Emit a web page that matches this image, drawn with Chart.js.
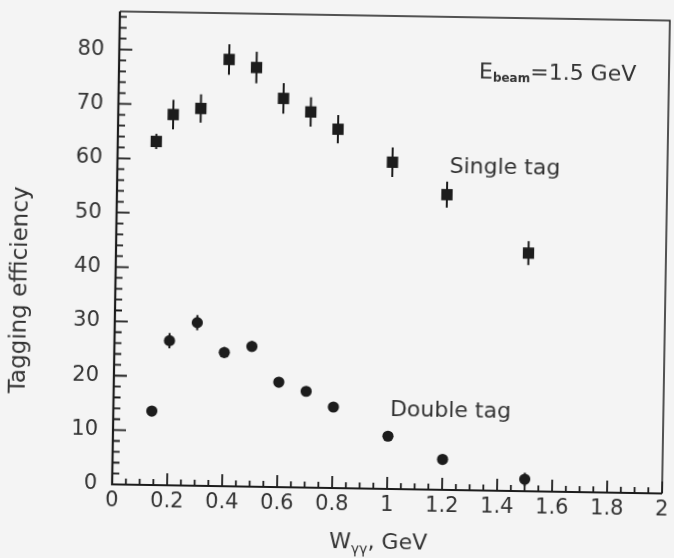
<!DOCTYPE html>
<html>
<head>
<meta charset="utf-8">
<script src="https://cdn.jsdelivr.net/npm/chart.js@4.4.1/dist/chart.umd.min.js"></script>
<style>
  html, body { margin: 0; padding: 0; background: #f4f4f4; overflow: hidden; }
  /* the scan is tilted about one degree */
  #chart { display: block; transform: rotate(0.95deg); transform-origin: 393px 252px; }
</style>
</head>
<body>
<canvas id="chart" width="674" height="558"></canvas>
<script>
// W_gg values (GeV) for both samples
const wValues = [0.14, 0.2, 0.3, 0.4, 0.5, 0.6, 0.7, 0.8, 1.0, 1.2, 1.5];
// Single tag efficiency and errors
const singleTag = [63.2, 68.2, 69.4, 78.5, 77.1, 71.5, 69.1, 66.0, 60.1, 54.3, 43.8];
const singleErr = [1.4, 2.7, 2.6, 2.8, 2.9, 2.8, 2.7, 2.6, 2.7, 2.4, 2.2];
// Double tag efficiency and errors
const doubleTag = [13.6, 26.6, 30.0, 24.6, 25.8, 19.3, 17.7, 14.9, 9.7, 5.6, 2.2];
const doubleErr = [0.8, 1.4, 1.4, 1.0, 1.0, 0.9, 0.8, 0.8, 0.7, 0.6, 1.2];
// axis ticks
const xTicks = [0, 0.2, 0.4, 0.6, 0.8, 1, 1.2, 1.4, 1.6, 1.8, 2];
const xTickLabels = ["0", "0.2", "0.4", "0.6", "0.8", "1", "1.2", "1.4", "1.6", "1.8", "2"];
const yTicks = [0, 10, 20, 30, 40, 50, 60, 70, 80];
const yTickLabels = ["0", "10", "20", "30", "40", "50", "60", "70", "80"];

const ink = "#1c1c1c";
const textCol = "#333333";
const fam = "'DejaVu Sans', sans-serif";

// draws text pieces one after another, some of them as subscripts
const drawPieces = (ctx, pieces, x, y, align) => {
  let total = 0;
  pieces.forEach(p => {
    ctx.font = p.font;
    total += ctx.measureText(p.t).width;
  });
  let cx = align === "center" ? x - total / 2 : x;
  pieces.forEach(p => {
    ctx.font = p.font;
    ctx.fillText(p.t, cx, y + (p.dy || 0));
    cx += ctx.measureText(p.t).width;
  });
};

const plotDecor = {
  id: "plotDecor",
  beforeDatasetsDraw(chart) {
    const ctx = chart.ctx;
    const yS = chart.scales.y;
    ctx.save();
    ctx.strokeStyle = ink;
    ctx.lineWidth = 2;
    chart.data.datasets.forEach((ds, i) => {
      const meta = chart.getDatasetMeta(i);
      meta.data.forEach((pt, j) => {
        const v = ds.data[j].y;
        const e = ds.errors[j];
        ctx.beginPath();
        ctx.moveTo(pt.x, yS.getPixelForValue(v - e));
        ctx.lineTo(pt.x, yS.getPixelForValue(v + e));
        ctx.stroke();
      });
    });
    ctx.restore();
  },
  afterDraw(chart) {
    const ctx = chart.ctx;
    const a = chart.chartArea;
    const xS = chart.scales.x;
    const yS = chart.scales.y;
    ctx.save();
    ctx.strokeStyle = ink;

    // frame
    ctx.lineWidth = 1.5;
    ctx.beginPath();
    ctx.moveTo(a.left, a.top);
    ctx.lineTo(a.right, a.top);
    ctx.lineTo(a.right, a.bottom);
    ctx.stroke();
    ctx.lineWidth = 2.2;
    ctx.beginPath();
    ctx.moveTo(a.left, a.top);
    ctx.lineTo(a.left, a.bottom);
    ctx.lineTo(a.right, a.bottom);
    ctx.stroke();

    // inward ticks
    ctx.lineWidth = 1.8;
    ctx.beginPath();
    for (let k = 0; k * 2 <= yS.max; k++) {
      const py = yS.getPixelForValue(k * 2);
      const len = k % 5 === 0 ? 13 : 7;
      ctx.moveTo(a.left, py);
      ctx.lineTo(a.left + len, py);
    }
    for (let k = 0; k <= 40; k++) {
      const px = xS.getPixelForValue(k * 0.05);
      const len = k % 4 === 0 ? 12 : 6;
      ctx.moveTo(px, a.bottom);
      ctx.lineTo(px, a.bottom - len);
    }
    ctx.stroke();

    // labels inside the plot
    ctx.fillStyle = textCol;
    ctx.textBaseline = "middle";
    ctx.textAlign = "left";
    const big = "22px " + fam;
    drawPieces(ctx, [
      { t: "E", font: big },
      { t: "beam", font: "bold 12px " + fam, dy: 6 },
      { t: "=1.5 GeV", font: big }
    ], xS.getPixelForValue(1.309), yS.getPixelForValue(76.9), "left");
    ctx.font = big;
    ctx.fillText("Single tag", xS.getPixelForValue(1.208), yS.getPixelForValue(59.3));
    ctx.fillText("Double tag", xS.getPixelForValue(1.006), yS.getPixelForValue(14.4));

    // axis titles
    drawPieces(ctx, [
      { t: "W", font: big },
      { t: "\u03b3\u03b3", font: "14px " + fam, dy: 7 },
      { t: ", GeV", font: big }
    ], xS.getPixelForValue(0.971), 543, "center");

    ctx.translate(21, yS.getPixelForValue(35.5));
    ctx.rotate(-Math.PI / 2);
    ctx.textAlign = "center";
    ctx.font = "23px " + fam;
    ctx.fillText("Tagging efficiency", 0, 0);
    ctx.restore();
  }
};

new Chart(document.getElementById("chart"), {
  type: "scatter",
  data: {
    datasets: [
      {
        label: "Single tag",
        data: wValues.map((w, i) => ({ x: w, y: singleTag[i] })),
        errors: singleErr,
        pointStyle: "rect",
        pointRadius: 8,
        backgroundColor: ink,
        borderColor: ink,
        borderWidth: 0
      },
      {
        label: "Double tag",
        data: wValues.map((w, i) => ({ x: w, y: doubleTag[i] })),
        errors: doubleErr,
        pointStyle: "circle",
        pointRadius: 5.6,
        backgroundColor: ink,
        borderColor: ink,
        borderWidth: 0
      }
    ]
  },
  options: {
    responsive: false,
    animation: false,
    devicePixelRatio: 1,
    layout: { padding: { top: 16, right: 4, left: 0, bottom: 0 } },
    plugins: {
      legend: { display: false },
      tooltip: { enabled: false }
    },
    scales: {
      x: {
        type: "linear",
        min: 0,
        max: 2,
        grid: { display: false },
        border: { display: false },
        afterBuildTicks: scale => { scale.ticks = xTicks.map(v => ({ value: v })); },
        afterFit: scale => {
          scale.height = 69;
          scale.paddingLeft = 0;
          scale.paddingRight = 0;
        },
        ticks: {
          padding: -4,
          maxRotation: 0,
          autoSkip: false,
          color: textCol,
          font: { family: fam, size: 21 },
          callback: (v, i) => xTickLabels[i]
        }
      },
      y: {
        type: "linear",
        min: 0,
        max: 87,
        grid: { display: false },
        border: { display: false },
        afterBuildTicks: scale => { scale.ticks = yTicks.map(v => ({ value: v })); },
        afterFit: scale => {
          scale.width = 116;
          scale.paddingTop = 0;
          scale.paddingBottom = 0;
        },
        ticks: {
          padding: 7,
          autoSkip: false,
          color: textCol,
          font: { family: fam, size: 21 },
          callback: (v, i) => yTickLabels[i]
        }
      }
    }
  },
  plugins: [plotDecor]
});
</script>
</body>
</html>
